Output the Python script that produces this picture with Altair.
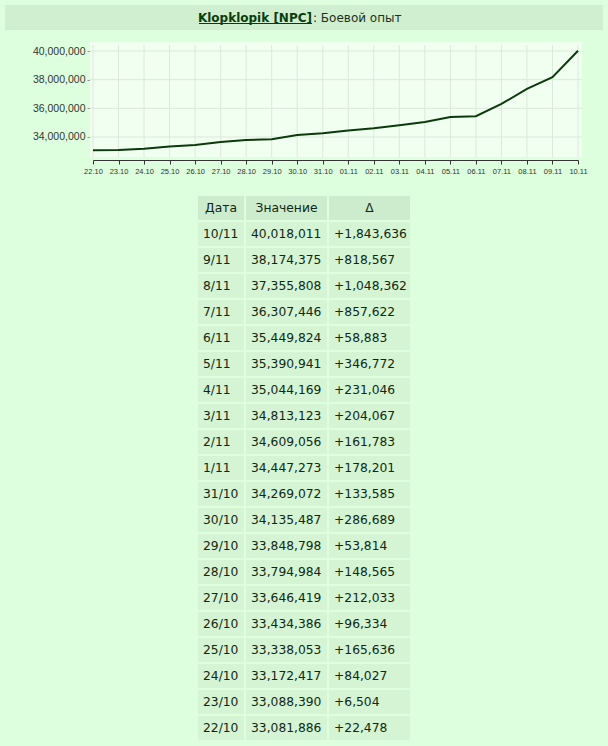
import altair as alt
import pandas as pd

# ---------------- data ----------------
table_dates = ["10/11", "9/11", "8/11", "7/11", "6/11", "5/11", "4/11", "3/11", "2/11", "1/11",
               "31/10", "30/10", "29/10", "28/10", "27/10", "26/10", "25/10", "24/10", "23/10", "22/10"]
values = [40018011, 38174375, 37355808, 36307446, 35449824, 35390941, 35044169, 34813123,
          34609056, 34447273, 34269072, 34135487, 33848798, 33794984, 33646419, 33434386,
          33338053, 33172417, 33088390, 33081886]
deltas = [1843636, 818567, 1048362, 857622, 58883, 346772, 231046, 204067, 161783, 178201,
          133585, 286689, 53814, 148565, 212033, 96334, 165636, 84027, 6504, 22478]
axis_labels = ["22.10", "23.10", "24.10", "25.10", "26.10", "27.10", "28.10", "29.10", "30.10",
               "31.10", "01.11", "02.11", "03.11", "04.11", "05.11", "06.11", "07.11", "08.11",
               "09.11", "10.11"]
y_ticks = [34000000, 36000000, 38000000, 40000000]
headers = ["Дата", "Значение", "Δ"]
title_name = "Klopklopik [NPC]"
title_rest = ": Боевой опыт"

# ---------------- style ----------------
PAGE_BG = "#ddffdd"
TITLE_BG = "#d0eed0"
PLOT_BG = "#f0fff0"
GRID = "#dce8dc"
LINE = "#0c3a0c"
HDR_BG = "#cdeccd"
ROW_BG = "#d4f4d4"
TXT = "#102810"
LINK = "#0b3d0b"
TFONT = "DejaVu Sans"
AFONT = "Liberation Sans"

W = 485

# ---------------- title ----------------
one = pd.DataFrame({"t": [0]})
title_bg = alt.Chart(one).mark_rect(color=TITLE_BG).encode(
    x=alt.value(-88), x2=alt.value(510), y=alt.value(0), y2=alt.value(25))
t1 = alt.Chart(pd.DataFrame({"t": [title_name]})).mark_text(
    align="right", baseline="alphabetic", font=TFONT, fontWeight="bold", fontSize=12, color=LINK
).encode(x=alt.value(219), y=alt.value(16.5), text="t:N")
t2 = alt.Chart(pd.DataFrame({"t": [title_rest]})).mark_text(
    align="left", baseline="alphabetic", font=TFONT, fontSize=12, color="#1a331a"
).encode(x=alt.value(220), y=alt.value(16.5), text="t:N")
uline = alt.Chart(one).mark_rule(color=LINK, strokeWidth=1).encode(
    x=alt.value(106), x2=alt.value(219), y=alt.value(18.5))
title_chart = alt.layer(title_bg, t1, t2, uline).properties(width=W, height=37)

# ---------------- line chart ----------------
line_df = pd.DataFrame({"d": axis_labels, "v": values[::-1]})
ydf = pd.DataFrame({"v": y_ticks})

xs = alt.X("d:O", sort=axis_labels,
           scale=alt.Scale(type="point", padding=0, domain=axis_labels),
           axis=alt.Axis(title=None, offset=-35, tickSize=4, tickColor="#333", domainColor="#333",
                         labelFontSize=7.5, labelColor="#333", labelFont=AFONT, labelPadding=3,
                         labelAngle=0, grid=False, labelOverlap=False))
ys = alt.Y("v:Q", scale=alt.Scale(domain=[29953000, 40628000], nice=False, zero=False),
           axis=alt.Axis(title=None, values=y_ticks, format=",d", offset=3, tickSize=3,
                         tickColor="#999", domain=False, grid=False, labelFont=AFONT,
                         labelFontSize=10.5, labelColor="#333", labelPadding=2))

plot_bg = alt.Chart(one).mark_rect(color=PLOT_BG).encode(
    x=alt.value(-3), x2=alt.value(489), y=alt.value(0), y2=alt.value(115))
vgrid = alt.Chart(line_df).mark_rule(color=GRID, strokeWidth=1).encode(
    x=xs, y=alt.value(3), y2=alt.value(115))
hgrid = alt.Chart(ydf).mark_rule(color=GRID, strokeWidth=1).encode(
    y=ys, x=alt.value(-3), x2=alt.value(489))
line = alt.Chart(line_df).mark_line(color=LINE, strokeWidth=2).encode(x=xs, y=ys)
line_chart = alt.layer(plot_bg, vgrid, hgrid, line).properties(width=W, height=153)

# ---------------- table ----------------
row_domain = ["hdr"] + table_dates
tab_df = pd.DataFrame({"key": table_dates, "date": table_dates, "value": values,
                       "delta": deltas, "kind": "r"})
cells_df = pd.concat([pd.DataFrame({"key": ["hdr"], "kind": ["h"]}), tab_df[["key", "kind"]]])
hdr_df = pd.DataFrame({"key": ["hdr"] * 3, "h": headers})

Y = alt.Y("key:N", scale=alt.Scale(domain=row_domain, paddingInner=2 / 26, paddingOuter=1 / 26),
          axis=None)
edges = [104, 152, 235, 318]
layers = []
for i in range(3):
    L, R = edges[i], edges[i + 1]
    layers.append(alt.Chart(cells_df).mark_rect().encode(
        y=Y, x=alt.value(L + 1), x2=alt.value(R - 1),
        color=alt.Color("kind:N", scale=alt.Scale(domain=["h", "r"], range=[HDR_BG, ROW_BG]),
                        legend=None)))
for i in range(3):
    L, R = edges[i], edges[i + 1]
    layers.append(alt.Chart(hdr_df).transform_filter(alt.datum.h == headers[i]).mark_text(
        align="center", baseline="middle", font=TFONT, fontSize=12.3, color=TXT
    ).encode(y=Y, x=alt.value((L + R) / 2), text="h:N"))
fields = [alt.Text("date:N"), alt.Text("value:Q", format=",d"), alt.Text("delta:Q", format="+,d")]
for i in range(3):
    L = edges[i]
    layers.append(alt.Chart(tab_df).mark_text(
        align="left", baseline="middle", font=TFONT, fontSize=12.3, color=TXT
    ).encode(y=Y, x=alt.value(L + 6), text=fields[i]))
table_chart = alt.layer(*layers).properties(width=W, height=546)

chart = alt.vconcat(title_chart, line_chart, table_chart, spacing=0).properties(
    padding={"left": 5, "top": 5, "right": 5, "bottom": 5},
    background=PAGE_BG,
).configure_view(stroke=None)

chart.save("out.html", embed_options={"renderer": "svg", "actions": False})
